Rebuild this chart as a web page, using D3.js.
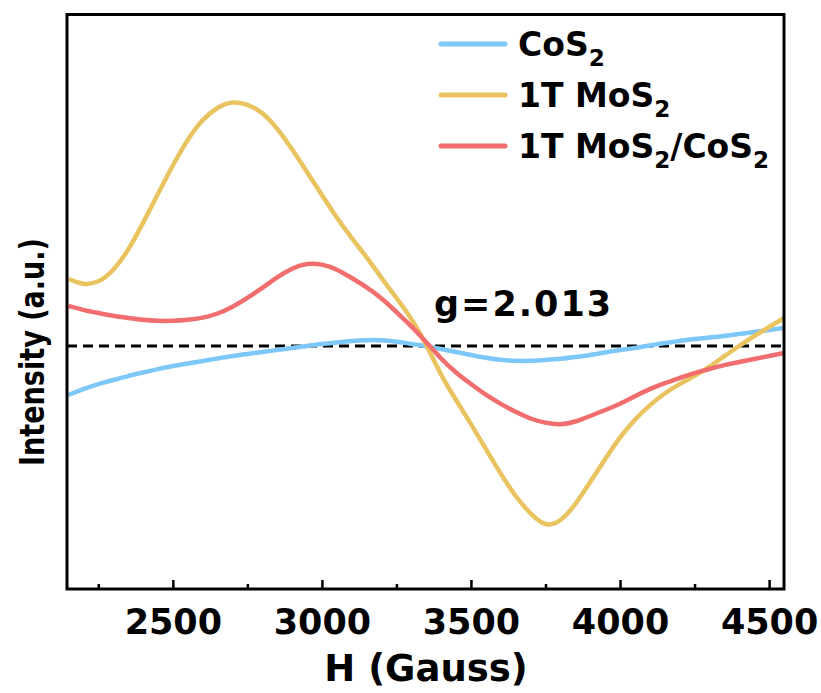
<!DOCTYPE html>
<html>
<head>
<meta charset="utf-8">
<script src="https://cdn.jsdelivr.net/npm/d3@7"></script>
<style>
  html, body { margin: 0; padding: 0; background: #fff; }
  svg { display: block; }
  text { font-family: "DejaVu Sans", Verdana, sans-serif; font-weight: bold; fill: #000; }
</style>
</head>
<body>
<svg id="chart" width="821" height="693"></svg>
<script>
// ---- data ----
const field = d3.range(2150, 4551, 50); // H (Gauss)
const cos2 = [-0.49,-0.43,-0.38,-0.34,-0.30,-0.265,-0.23,-0.20,-0.175,-0.15,
  -0.125,-0.10,-0.08,-0.06,-0.04,-0.02,0.00,0.02,0.035,0.05,
  0.06,0.06,0.045,0.02,0.00,-0.03,-0.06,-0.09,-0.12,-0.14,
  -0.15,-0.15,-0.14,-0.13,-0.11,-0.09,-0.065,-0.04,-0.02,0.005,
  0.03,0.05,0.07,0.085,0.10,0.12,0.14,0.16,0.18];
const mos2 = [0.67,0.61,0.63,0.75,0.95,1.23,1.52,1.81,2.07,2.27,
  2.39,2.45,2.42,2.34,2.18,1.97,1.74,1.51,1.28,1.08,
  0.89,0.68,0.48,0.28,0.02,-0.30,-0.54,-0.78,-1.03,-1.28,
  -1.51,-1.68,-1.81,-1.76,-1.59,-1.36,-1.13,-0.91,-0.73,-0.59,
  -0.47,-0.38,-0.30,-0.21,-0.10,0.00,0.10,0.19,0.28];
const mos2cos2 = [0.40,0.36,0.33,0.30,0.28,0.26,0.25,0.25,0.26,0.28,
  0.32,0.39,0.48,0.58,0.69,0.78,0.83,0.82,0.77,0.68,
  0.59,0.48,0.34,0.20,0.04,-0.13,-0.27,-0.38,-0.49,-0.58,
  -0.66,-0.73,-0.77,-0.79,-0.76,-0.70,-0.64,-0.58,-0.50,-0.43,
  -0.37,-0.32,-0.27,-0.23,-0.19,-0.16,-0.13,-0.10,-0.07];
const seriesNames = ["CoS2", "1T MoS2", "1T MoS2/CoS2"];
const seriesColors = ["#7cc8f8", "#e9c35f", "#f26d6d"];
const majorTicks = [2500, 3000, 3500, 4000, 4500];
const minorTicks = [2250, 2750, 3250, 3750, 4250];
const gLevel = 0;
const gLabel = "g=2.013";

// ---- layout ----
const svg = d3.select("#chart");
const L = 67, R = 784, T = 14.5, B = 589;
const x = d3.scaleLinear().domain([2145, 4550]).range([L, R]);
const y = d3.scaleLinear().domain([-2.43, 3.315]).range([B, T]);

const series = [cos2, mos2, mos2cos2];

// dashed reference line
svg.append("line")
  .attr("x1", L).attr("x2", R)
  .attr("y1", y(gLevel)).attr("y2", y(gLevel))
  .attr("stroke", "#000").attr("stroke-width", 3)
  .attr("stroke-dasharray", "10,6");

// curves
const line = d3.line().x((d, i) => x(field[i])).y(d => y(d)).curve(d3.curveBasis);
svg.append("clipPath").attr("id", "clip").append("rect")
  .attr("x", L).attr("y", T).attr("width", R - L).attr("height", B - T);
svg.append("g").attr("clip-path", "url(#clip)")
  .selectAll("path").data(series).join("path")
  .attr("d", d => line(d))
  .attr("fill", "none")
  .attr("stroke", (d, i) => seriesColors[i])
  .attr("stroke-width", 4.5)
  .attr("stroke-linejoin", "round");

// axes
const xAxis = d3.axisBottom(x).tickValues(majorTicks).tickSize(-9).tickPadding(20).tickFormat(d3.format("d"));
const gx = svg.append("g").attr("transform", `translate(0,${B})`).call(xAxis);
gx.select(".domain").remove();
gx.selectAll(".tick line").attr("stroke", "#000").attr("stroke-width", 2.5);
gx.selectAll(".tick text").attr("font-size", 35).attr("font-family", "DejaVu Sans")
  .attr("font-weight", "bold").attr("fill", "#000").attr("dy", "0.71em");
const gxm = svg.append("g").attr("transform", `translate(0,${B})`)
  .call(d3.axisBottom(x).tickValues(minorTicks).tickSize(-5).tickFormat(""));
gxm.select(".domain").remove();
gxm.selectAll(".tick line").attr("stroke", "#000").attr("stroke-width", 2.5);

// frame
svg.append("rect").attr("x", L).attr("y", T).attr("width", R - L).attr("height", B - T)
  .attr("fill", "none").attr("stroke", "#000").attr("stroke-width", 3);

// axis titles
svg.append("text").attr("x", 426).attr("y", 681).attr("text-anchor", "middle")
  .attr("font-size", 37).text("H (Gauss)");
svg.append("text").attr("transform", `translate(44,352) rotate(-90) scale(0.82,1)`)
  .attr("text-anchor", "middle").attr("font-size", 33).text("Intensity (a.u.)");

// g label
svg.append("text").attr("x", 434).attr("y", 316).attr("font-size", 35)
  .attr("letter-spacing", 2).text(gLabel);

// legend
const legY = [44, 95, 146];
function addLabel(t, name, fs) {
  const parts = name.split(/(S2)/).filter(s => s.length);
  let shifted = false;
  parts.forEach(p => {
    if (p === "S2") {
      const s = t.append("tspan").text("S");
      if (shifted) { s.attr("dy", -0.3 * fs); shifted = false; }
      t.append("tspan").attr("font-size", 0.7 * fs).attr("dy", 0.3 * fs).text("2");
      shifted = true;
    } else {
      const s = t.append("tspan").text(p);
      if (shifted) { s.attr("dy", -0.3 * fs); shifted = false; }
    }
  });
}
const leg = svg.append("g");
seriesNames.forEach((n, i) => {
  leg.append("line").attr("x1", 441).attr("x2", 505).attr("y1", legY[i]).attr("y2", legY[i])
    .attr("stroke", seriesColors[i]).attr("stroke-width", 5).attr("stroke-linecap", "round");
  const t = leg.append("text").attr("x", 518).attr("y", legY[i] + 12).attr("font-size", 33);
  addLabel(t, n, 33);
});
</script>
</body>
</html>
